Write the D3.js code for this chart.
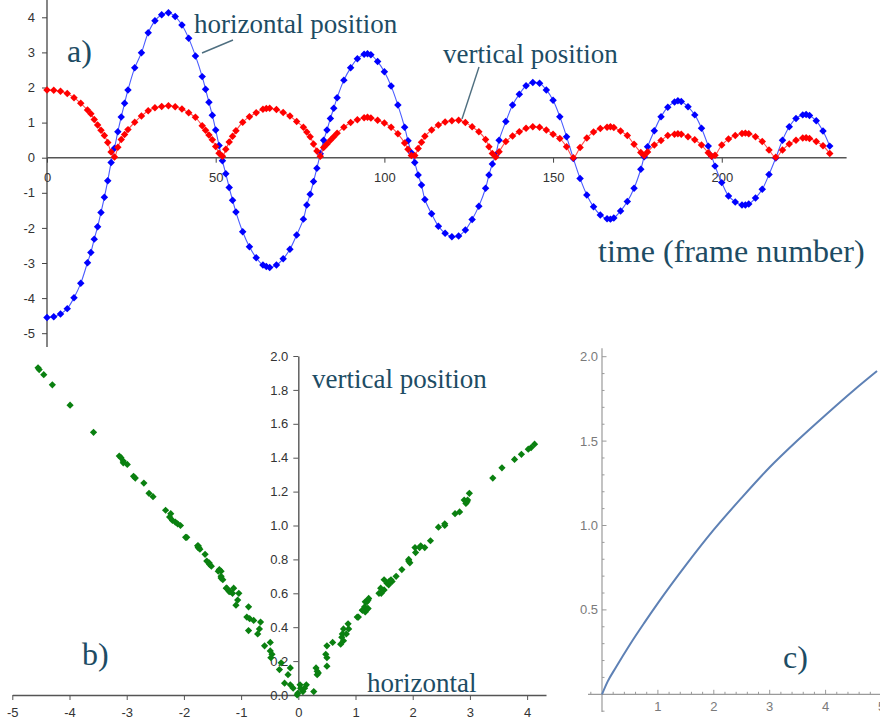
<!DOCTYPE html>
<html><head><meta charset="utf-8">
<script src="https://cdn.jsdelivr.net/npm/d3@7"></script>
<style>body{margin:0;background:#fff} svg{display:block}</style>
</head><body>
<svg id="chart" width="880" height="727"></svg>
<script>
// ---------- Panel a / b data (same measurements) ----------
const frames = [0,2,4,6,8,10,12,13,14,15,16,17,18,19,20,21,22,23,24,26,28,30,32,34,36,38,40,42,44,46,47,48,49,50,51,52,53,54,55,56,58,60,62,64,65,66,68,70,72,74,76,77,78,79,80,81,82,83,84,85,86,88,90,92,94,95,96,98,100,102,104,106,107,108,109,110,111,112,114,116,118,120,122,124,126,128,130,131,132,133,134,136,138,140,142,144,146,148,150,152,154,156,158,160,162,164,166,167,168,170,172,174,176,177,178,180,182,184,186,187,188,190,192,194,196,197,198,200,202,204,206,207,208,210,212,214,216,218,220,222,224,225,226,228,230,232];
const horizontal = [-4.55,-4.53,-4.45,-4.30,-3.99,-3.58,-2.99,-2.70,-2.32,-1.97,-1.56,-1.13,-0.66,-0.14,0.27,0.74,1.16,1.55,1.93,2.56,2.99,3.56,3.90,4.07,4.13,4.02,3.78,3.40,2.90,2.31,1.95,1.58,1.21,0.79,0.35,-0.09,-0.46,-0.85,-1.21,-1.55,-2.11,-2.54,-2.85,-3.06,-3.10,-3.13,-3.06,-2.88,-2.61,-2.20,-1.75,-1.35,-1.04,-0.68,-0.30,0.11,0.50,0.79,1.12,1.41,1.71,2.21,2.56,2.82,2.95,2.96,2.93,2.74,2.45,2.04,1.50,0.87,0.48,0.14,-0.14,-0.49,-0.78,-1.19,-1.60,-1.95,-2.15,-2.25,-2.23,-2.06,-1.76,-1.38,-0.87,-0.49,-0.18,0.08,0.50,1.03,1.50,1.81,2.05,2.14,2.12,1.93,1.64,1.17,0.60,-0.02,-0.59,-1.06,-1.40,-1.63,-1.74,-1.75,-1.72,-1.52,-1.25,-0.87,-0.33,0.03,0.31,0.77,1.17,1.44,1.59,1.62,1.60,1.45,1.22,0.84,0.33,0.04,-0.24,-0.71,-1.09,-1.26,-1.35,-1.35,-1.32,-1.15,-0.90,-0.48,-0.01,0.50,0.88,1.12,1.22,1.23,1.20,1.05,0.76,0.33];
const vertical = [1.93,1.92,1.89,1.83,1.71,1.55,1.36,1.25,1.09,0.93,0.78,0.63,0.43,0.16,0.02,0.30,0.52,0.66,0.80,1.01,1.19,1.34,1.42,1.46,1.48,1.45,1.39,1.28,1.15,0.91,0.78,0.65,0.51,0.32,0.13,0.04,0.24,0.45,0.61,0.77,1.01,1.17,1.28,1.38,1.40,1.41,1.37,1.29,1.19,1.03,0.87,0.73,0.60,0.39,0.19,0.04,0.29,0.39,0.50,0.60,0.70,0.87,1.00,1.08,1.14,1.15,1.13,1.07,0.99,0.87,0.68,0.42,0.24,0.06,0.06,0.26,0.44,0.61,0.79,0.93,1.02,1.05,1.07,1.00,0.88,0.74,0.52,0.31,0.12,0.02,0.17,0.46,0.62,0.74,0.84,0.88,0.87,0.79,0.67,0.55,0.31,0.00,0.29,0.56,0.73,0.83,0.87,0.88,0.86,0.76,0.63,0.38,0.15,0.06,0.16,0.36,0.49,0.63,0.67,0.68,0.67,0.60,0.51,0.36,0.14,0.04,0.07,0.36,0.53,0.63,0.69,0.70,0.68,0.60,0.46,0.22,0.01,0.22,0.39,0.50,0.56,0.57,0.55,0.46,0.34,0.12];
const aXTicks = [0,50,100,150,200];
const aYTicks = [-5,-4,-3,-2,-1,0,1,2,3,4];
const bXTicks = [-5,-4,-3,-2,-1,0,1,2,3,4];
const bYTicks = [0,0.2,0.4,0.6,0.8,1.0,1.2,1.4,1.6,1.8,2.0];
// ---------- Panel c data ----------
const cX = [0,0.1,0.25,0.5,0.75,1,1.5,2,2.5,3,3.5,4,4.5,4.92];
const cY = [0,0.075,0.16,0.295,0.42,0.54,0.765,0.975,1.165,1.345,1.505,1.655,1.80,1.915];
const cXTicks = [1,2,3,4,5];
const cYTicks = [0.5,1.0,1.5,2.0];

const svg = d3.select("#chart");
svg.append("rect").attr("width",880).attr("height",727).attr("fill","#fff");
const serif = "'Liberation Serif','Times New Roman',serif";
const sans = "'Liberation Sans',Arial,sans-serif";
const annot = "#1d4c64";
const pts = frames.map((f,i)=>({t:f,h:horizontal[i],v:vertical[i]}));

// ================= Panel a =================
const xA = d3.scaleLinear().domain([0,237]).range([47,846.6]);
const yA = d3.scaleLinear().domain([-5,4]).range([333.2,17.3]);
const gA = svg.append("g");
const axA_y = gA.append("g").attr("transform","translate(47,0)")
  .call(d3.axisLeft(yA).tickValues(aYTicks).tickSize(5).tickPadding(7).tickFormat(d=>String(d)));
axA_y.select(".domain").remove();
gA.append("line").attr("x1",47).attr("x2",47).attr("y1",0).attr("y2",347).attr("stroke","#444").attr("stroke-width",1.3);
const axA_x = gA.append("g").attr("transform",`translate(0,${yA(0)})`)
  .call(d3.axisBottom(xA).tickValues(aXTicks).tickSize(5).tickPadding(10).tickFormat(d=>String(d)));
axA_x.select(".domain").remove();
gA.append("line").attr("x1",xA(0)).attr("x2",xA(237)).attr("y1",yA(0)).attr("y2",yA(0)).attr("stroke","#555").attr("stroke-width",1.5);
[axA_x,axA_y].forEach(a=>{a.selectAll("text").attr("font-family",sans).attr("font-size",13).attr("fill","#333");a.selectAll(".tick line").attr("stroke","#444");});

const lineH = d3.line().x(d=>xA(d.t)).y(d=>yA(d.h)).curve(d3.curveCatmullRom);
const lineV = d3.line().x(d=>xA(d.t)).y(d=>yA(d.v)).curve(d3.curveCatmullRom);
const marker = d3.symbol(d3.symbolSquare, 28);
gA.append("path").attr("d",lineH(pts)).attr("fill","none").attr("stroke","#4a5cff").attr("stroke-width",1.1);
gA.append("g").selectAll("path").data(pts).join("path").attr("d",marker)
  .attr("transform",d=>`translate(${xA(d.t)},${yA(d.h)}) rotate(45)`).attr("fill","#0000ff");
gA.append("path").attr("d",lineV(pts)).attr("fill","none").attr("stroke","#ff5050").attr("stroke-width",1.1);
gA.append("g").selectAll("path").data(pts).join("path").attr("d",marker)
  .attr("transform",d=>`translate(${xA(d.t)},${yA(d.v)}) rotate(45)`).attr("fill","#ff0000");

const txt = (x,y,s,size)=>svg.append("text").attr("x",x).attr("y",y).attr("font-family",serif).attr("font-size",size).attr("fill",annot).text(s);
txt(67,62,"a)",32);
txt(194,33,"horizontal position",27);
txt(443,63,"vertical position",27);
txt(598,262,"time (frame number)",32);
svg.append("line").attr("x1",233).attr("y1",40).attr("x2",202).attr("y2",53).attr("stroke","#4f6f80").attr("stroke-width",1.4);
svg.append("line").attr("x1",479).attr("y1",67).attr("x2",462).attr("y2",119).attr("stroke","#4f6f80").attr("stroke-width",1.4);

// ================= Panel b =================
const xB = d3.scaleLinear().domain([-5,4.33]).range([12.3,546]);
const yB = d3.scaleLinear().domain([0,2]).range([695,356]);
const gB = svg.append("g");
const axB_x = gB.append("g").attr("transform",`translate(0,${yB(0)})`)
  .call(d3.axisBottom(xB).tickValues(bXTicks).tickSize(5).tickSizeOuter(0).tickPadding(8).tickFormat(d=>String(d)));
const axB_y = gB.append("g").attr("transform",`translate(${xB(0)},0)`)
  .call(d3.axisLeft(yB).tickValues(bYTicks).tickSize(5).tickSizeOuter(0).tickPadding(5).tickFormat(d3.format(".1f")));
[axB_x,axB_y].forEach(a=>{a.selectAll("text").attr("font-family",sans).attr("font-size",13).attr("fill","#333");a.selectAll(".tick line").attr("stroke","#555");a.select(".domain").attr("stroke","#555").attr("stroke-width",1.4);});
gB.append("g").selectAll("path").data(pts).join("path").attr("d",d3.symbol(d3.symbolSquare,26))
  .attr("transform",d=>`translate(${xB(d.h)},${yB(d.v)}) rotate(45)`).attr("fill","#0a8010");
txt(312,388,"vertical position",27);
txt(367,692,"horizontal",27);
txt(82,665,"b)",32);

// ================= Panel c =================
const xC = d3.scaleLinear().domain([0,5]).range([602,881.5]);
const yC = d3.scaleLinear().domain([0,2]).range([694.3,356.7]);
const gC = svg.append("g");
const axc = "#9a9a9a";
gC.append("line").attr("x1",xC(-0.25)).attr("x2",880).attr("y1",yC(0)).attr("y2",yC(0)).attr("stroke",axc).attr("stroke-width",1.2);
gC.append("line").attr("x1",xC(0)).attr("x2",xC(0)).attr("y1",yC(2.05)).attr("y2",yC(-0.105)).attr("stroke",axc).attr("stroke-width",1.2);
const cxMinor = d3.range(-1,26).map(i=>i*0.2).filter(v=>Math.abs(v-Math.round(v))>1e-6);
const cyMinor = d3.range(-1,21).map(i=>i*0.1).filter(v=>Math.abs(v*2-Math.round(v*2))>1e-6);
gC.selectAll(".cxm").data(cxMinor).join("line").attr("x1",d=>xC(d)).attr("x2",d=>xC(d)).attr("y1",yC(0)).attr("y2",yC(0)-2.5).attr("stroke",axc);
gC.selectAll(".cxM").data(cXTicks).join("line").attr("x1",d=>xC(d)).attr("x2",d=>xC(d)).attr("y1",yC(0)).attr("y2",yC(0)-4.5).attr("stroke",axc);
gC.selectAll(".cym").data(cyMinor).join("line").attr("y1",d=>yC(d)).attr("y2",d=>yC(d)).attr("x1",xC(0)).attr("x2",xC(0)+2.5).attr("stroke",axc);
gC.selectAll(".cyM").data(cYTicks).join("line").attr("y1",d=>yC(d)).attr("y2",d=>yC(d)).attr("x1",xC(0)).attr("x2",xC(0)+4.5).attr("stroke",axc);
gC.selectAll(".cxl").data(cXTicks).join("text").attr("x",d=>xC(d)).attr("y",yC(0)+17).attr("text-anchor","middle")
  .attr("font-family",sans).attr("font-size",13).attr("fill","#7a7a7a").text(d=>String(d));
gC.selectAll(".cyl").data(cYTicks).join("text").attr("x",xC(0)-4).attr("y",d=>yC(d)+4.5).attr("text-anchor","end")
  .attr("font-family",sans).attr("font-size",13).attr("fill","#7a7a7a").text(d=>d3.format(".1f")(d));
gC.append("path").attr("d",d3.line().x((d,i)=>xC(cX[i])).y(d=>yC(d)).curve(d3.curveMonotoneX)(cY))
  .attr("fill","none").attr("stroke","#5e81b5").attr("stroke-width",2);
txt(783,668,"c)",32);
</script>
</body></html>
